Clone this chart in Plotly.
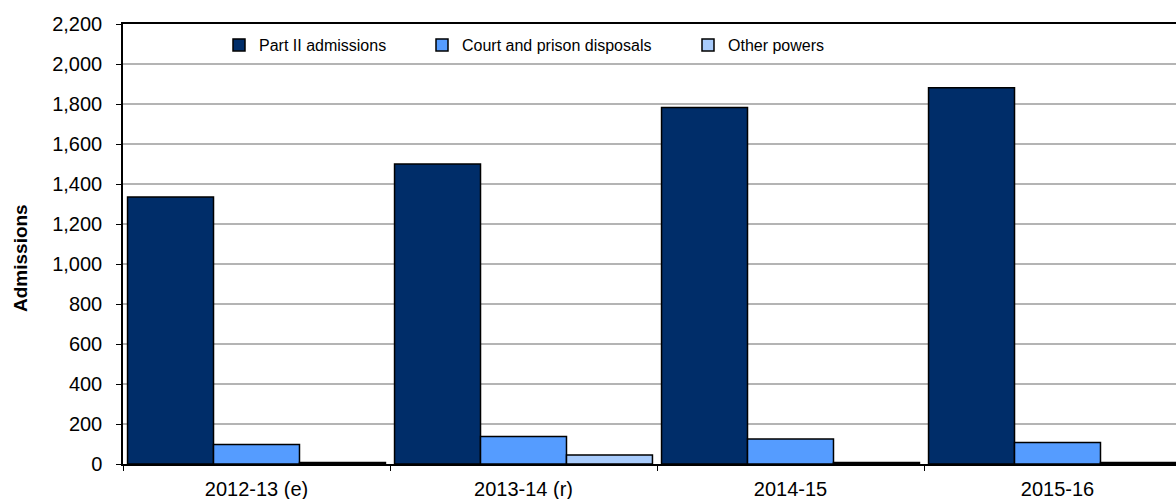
import plotly.graph_objects as go

categories = ["2012-13 (e)", "2013-14 (r)", "2014-15", "2015-16"]
part2 = [1335, 1500, 1783, 1881]
court = [98, 137, 125, 107]
other = [8, 45, 7, 7]
series_names = ["Part II admissions", "Court and prison disposals", "Other powers"]
colors = ["#002d69", "#559cff", "#a8cbfb"]
y_ticks = list(range(0, 2201, 200))
y_ticktext = [f"{v:,}" for v in y_ticks]

W, H = 1176, 499
ML, MT, MB = 123, 24, 35
plot_w = W - ML
plot_h = H - MT - MB

fig = go.Figure()
legend_keys = ["legend", "legend2", "legend3"]
for vals, name, col, lg in zip([part2, court, other], series_names, colors, legend_keys):
    fig.add_trace(go.Bar(
        x=categories, y=vals, name=name, legend=lg,
        marker=dict(color=col, line=dict(color="black", width=1.5)),
    ))

FAM = "Liberation Sans, Arial, sans-serif"
font = dict(family=FAM, size=16, color="black")
tickfont = dict(family=FAM, size=20, color="black")

# legend square centres in px (from reference)
sym_centres = [239, 442, 708]
leg_y = (H - MB - 45) / plot_h
legends = {}
for key, cx in zip(legend_keys, sym_centres):
    legends[key] = dict(
        x=(cx - 20 - ML) / plot_w, xanchor="left", xref="paper",
        y=leg_y, yanchor="middle", yref="paper",
        orientation="h", bgcolor="rgba(0,0,0,0)", borderwidth=0,
        font=font,
    )

cat_px = 267.0
right_extra = (ML + 4 * cat_px - W) / cat_px

fig.update_layout(
    width=W, height=H,
    margin=dict(l=ML, r=0, t=MT, b=MB, pad=0, autoexpand=False),
    paper_bgcolor="white", plot_bgcolor="white",
    font=font,
    barmode="group", bargap=0.034, bargroupgap=0,
    showlegend=True,
    **legends,
    xaxis=dict(
        range=[-0.5, 3.5 - right_extra],
        tickson="boundaries", ticks="outside", ticklen=5, tickcolor="black",
        showline=True, linecolor="black", linewidth=1.5, mirror=True,
        showgrid=False, tickfont=tickfont, ticklabelstandoff=6,
        automargin=False,
    ),
    yaxis=dict(
        range=[0, 2200], tickvals=y_ticks, ticktext=y_ticktext,
        ticks="outside", ticklen=5, tickcolor="black",
        showline=True, linecolor="black", linewidth=1.5,
        showgrid=True, gridcolor="#b4b4b4", gridwidth=1.5,
        tickfont=tickfont, ticklabelstandoff=10, zeroline=False,
        automargin=False,
    ),
    annotations=[dict(
        text="<b>Admissions</b>", textangle=-90,
        xref="paper", yref="paper",
        x=(20 - ML) / plot_w, xanchor="center",
        y=(H - MB - 258) / plot_h, yanchor="middle",
        showarrow=False,
        font=dict(family=FAM, size=19, color="black"),
    )],
)

fig.write_html(
    "out.html",
    config={"displayModeBar": False},
    post_script="document.body.style.margin='0';document.body.style.overflow='hidden';",
)
